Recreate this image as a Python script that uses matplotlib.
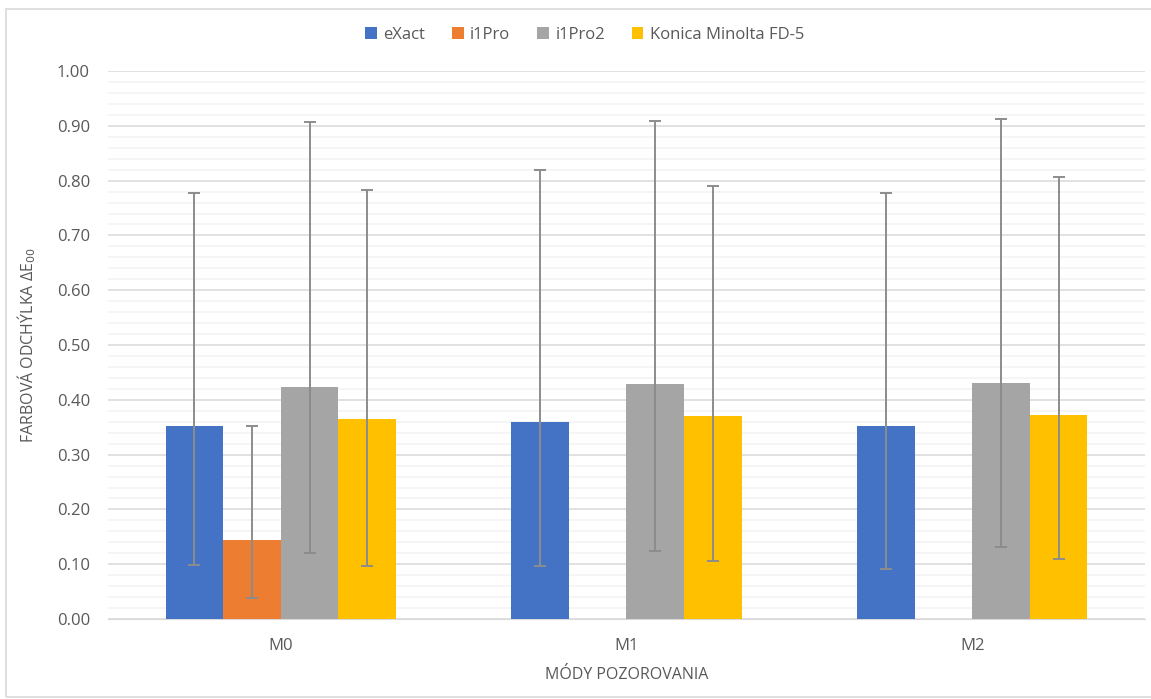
import numpy as np
import matplotlib.pyplot as plt
from matplotlib.patches import Rectangle
from matplotlib.ticker import MultipleLocator

# Data
categories = ['M0', 'M1', 'M2']
series = ['eXact', 'i1Pro', 'i1Pro2', 'Konica Minolta FD-5']
colors = ['#4472C4', '#ED7D31', '#A5A5A5', '#FFC000']

# bar heights (nan = missing)
values = {
    'eXact': [0.352, 0.360, 0.352],
    'i1Pro': [0.144, np.nan, np.nan],
    'i1Pro2': [0.424, 0.429, 0.430],
    'Konica Minolta FD-5': [0.365, 0.370, 0.372],
}
# error bar ends (lower, upper)
err_low = {
    'eXact': [0.099, 0.097, 0.092],
    'i1Pro': [0.039, np.nan, np.nan],
    'i1Pro2': [0.121, 0.124, 0.131],
    'Konica Minolta FD-5': [0.097, 0.105, 0.110],
}
err_high = {
    'eXact': [0.778, 0.819, 0.777],
    'i1Pro': [0.353, np.nan, np.nan],
    'i1Pro2': [0.907, 0.909, 0.912],
    'Konica Minolta FD-5': [0.782, 0.791, 0.806],
}

txt = '#595959'
plt.rcParams['font.family'] = ['Open Sans', 'DejaVu Sans']

fig = plt.figure(figsize=(11.51, 6.99), dpi=100)
ax = fig.add_axes([0.0938, 0.1144, 0.9010, 0.7840])

# light border around the chart area
fig.patches.append(Rectangle((0.0052, 0.003), 1.0, 0.984, transform=fig.transFigure,
                             fill=False, edgecolor='#D9D9D9', linewidth=1.2, zorder=0))

x = np.arange(len(categories))
w = 1 / 6
for i, s in enumerate(series):
    pos = x + (i - 1.5) * w
    v = np.array(values[s])
    lo = v - np.array(err_low[s])
    hi = np.array(err_high[s]) - v
    ax.bar(pos, v, width=w, color=colors[i], label=s, zorder=3)
    ax.errorbar(pos, v, yerr=[lo, hi], fmt='none', ecolor='#8C8C8C',
                elinewidth=1.4, capsize=4, capthick=1.4, zorder=4)

ax.set_xlim(-0.5, 2.5)
ax.set_ylim(0, 1.0)
ax.yaxis.set_major_locator(MultipleLocator(0.1))
ax.yaxis.set_minor_locator(MultipleLocator(0.02))
ax.set_yticks(np.arange(0, 1.01, 0.1))
ax.set_yticklabels([f'{t:.2f}' for t in np.arange(0, 1.01, 0.1)])
ax.set_xticks(x)
ax.set_xticklabels(categories)

ax.grid(axis='y', which='major', color='#D9D9D9', linewidth=1.1, zorder=0)
ax.grid(axis='y', which='minor', color='#F2F2F2', linewidth=1.1, zorder=0)
ax.set_axisbelow(True)
for sp in ['top', 'right', 'left']:
    ax.spines[sp].set_visible(False)
ax.spines['bottom'].set_color('#D9D9D9')
ax.tick_params(axis='both', which='both', length=0, colors=txt, labelsize=12)
ax.tick_params(axis='y', pad=13)
ax.tick_params(axis='x', pad=14)

ax.set_xlabel('MÓDY POZOROVANIA', color=txt, fontsize=11.5, labelpad=9)
ax.set_ylabel('FARBOVÁ ODCHÝLKA ΔE$_{00}$', color=txt, fontsize=11.5)
ax.yaxis.set_label_coords(-0.0675, 0.5)

leg = fig.legend(*ax.get_legend_handles_labels(), loc='center', bbox_to_anchor=(0.508, 0.95),
                 ncol=4, frameon=False, fontsize=12, handlelength=0.7, handleheight=0.7,
                 handletextpad=0.4, columnspacing=1.6)
for t in leg.get_texts():
    t.set_color(txt)

fig.savefig('out.png', dpi=100)
